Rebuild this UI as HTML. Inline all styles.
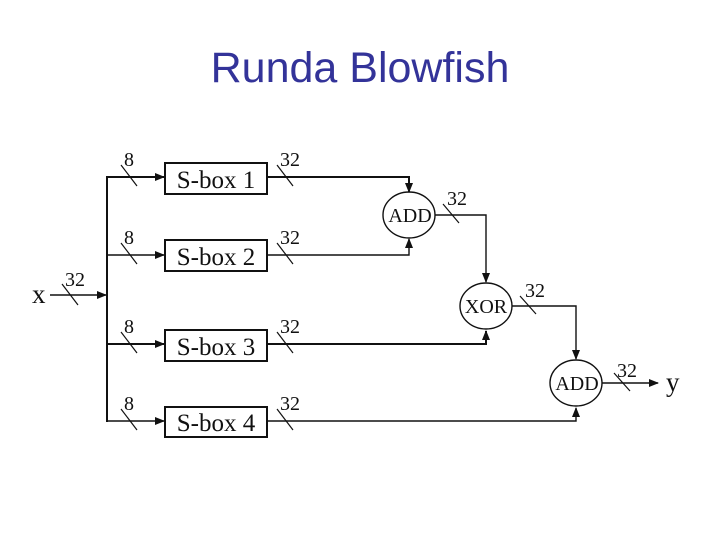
<!DOCTYPE html>
<html><head><style>body{margin:0;background:#fff}svg{display:block}</style></head><body>
<svg width="720" height="540" xmlns="http://www.w3.org/2000/svg">
<text x="360" y="82" text-anchor="middle" font-family="Liberation Sans, sans-serif" font-size="43" fill="#333399">Runda Blowfish</text>
<defs><marker id="a" markerWidth="10" markerHeight="8" refX="9" refY="4" orient="auto" markerUnits="userSpaceOnUse"><path d="M0,0L10,4L0,8z" fill="#111"/></marker></defs>
<g stroke="#111" fill="none" stroke-width="1.4">
<line x1="50" y1="295" x2="106" y2="295" marker-end="url(#a)"/>
<line x1="107" y1="176" x2="107" y2="422" stroke-width="2"/>
<line x1="107" y1="177" x2="164" y2="177" stroke-width="2" marker-end="url(#a)"/>
<line x1="107" y1="255" x2="164" y2="255" marker-end="url(#a)"/>
<line x1="107" y1="344" x2="164" y2="344" stroke-width="2" marker-end="url(#a)"/>
<line x1="107" y1="421" x2="164" y2="421" marker-end="url(#a)"/>
<rect x="165" y="163" width="102" height="31" stroke-width="2"/>
<rect x="165" y="240" width="102" height="31" stroke-width="2"/>
<rect x="165" y="330" width="102" height="31" stroke-width="2"/>
<rect x="165" y="407" width="102" height="30" stroke-width="2"/>
<polyline points="267,177 409,177 409,192" stroke-width="2" marker-end="url(#a)"/>
<polyline points="267,255 409,255 409,239" marker-end="url(#a)"/>
<polyline points="267,344 486,344 486,331" stroke-width="2" marker-end="url(#a)"/>
<polyline points="267,421 576,421 576,408" marker-end="url(#a)"/>
<ellipse cx="409" cy="215" rx="26" ry="23"/>
<ellipse cx="486" cy="306" rx="26" ry="23"/>
<ellipse cx="576" cy="383" rx="26" ry="23"/>
<polyline points="435,215 486,215 486,282" marker-end="url(#a)"/>
<polyline points="512,306 576,306 576,359" marker-end="url(#a)"/>
<line x1="602" y1="383" x2="658" y2="383" marker-end="url(#a)"/>
<g stroke-width="1.2">
<line x1="62" y1="284" x2="78" y2="305"/>
<line x1="121" y1="165" x2="137" y2="186"/>
<line x1="121" y1="243" x2="137" y2="264"/>
<line x1="121" y1="332" x2="137" y2="353"/>
<line x1="121" y1="409" x2="137" y2="430"/>
<line x1="277" y1="165" x2="293" y2="186"/>
<line x1="277" y1="243" x2="293" y2="264"/>
<line x1="277" y1="332" x2="293" y2="353"/>
<line x1="277" y1="409" x2="293" y2="430"/>
<line x1="443" y1="204" x2="459" y2="223"/>
<line x1="520" y1="296" x2="536" y2="314"/>
<line x1="614" y1="373" x2="630" y2="391"/>
</g></g>
<g font-family="Liberation Serif, serif" fill="#111">
<g font-size="20">
<text x="124" y="166">8</text><text x="124" y="244">8</text><text x="124" y="333">8</text><text x="124" y="410">8</text>
<text x="280" y="166">32</text><text x="280" y="244">32</text><text x="280" y="333">32</text><text x="280" y="410">32</text>
<text x="65" y="286">32</text><text x="447" y="205">32</text><text x="525" y="297">32</text><text x="617" y="377">32</text>
</g>
<g font-size="25" text-anchor="middle">
<text x="216" y="188">S-box 1</text><text x="216" y="265">S-box 2</text>
<text x="216" y="355">S-box 3</text><text x="216" y="431">S-box 4</text>
</g>
<g font-size="20" text-anchor="middle">
<text x="410" y="222">ADD</text><text x="486" y="313">XOR</text><text x="577" y="390">ADD</text>
</g>
<text x="32" y="303" font-size="27">x</text>
<text x="666" y="391" font-size="27">y</text>
</g>
</svg>
</body></html>
